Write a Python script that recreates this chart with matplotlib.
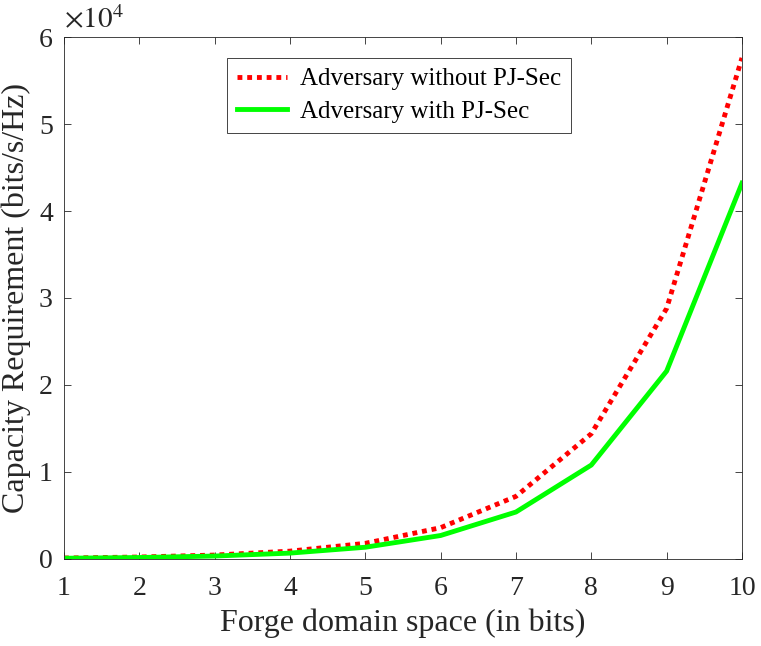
import numpy as np
import matplotlib
matplotlib.use('Agg')
from matplotlib import pyplot as plt

bits = [1, 2, 3, 4, 5, 6, 7, 8, 9, 10]
without_pj = [112, 225, 450, 900, 1800, 3600, 7200, 14400, 28800, 57600]
with_pj = [84, 169, 338, 675, 1350, 2700, 5400, 10800, 21600, 43200]

plt.rcParams['font.family'] = ['Liberation Serif', 'DejaVu Serif']
plt.rcParams['mathtext.fontset'] = 'stix'

fig = plt.figure(figsize=(7.61, 6.46), dpi=100)
ax = fig.add_axes([0.0841, 0.1347, 0.8909, 0.808])

ax.plot(bits, without_pj, color='#ff0000', linestyle=(0, (1, 1)), linewidth=3.5,
        label='Adversary without PJ-Sec')
ax.plot(bits, with_pj, color='#00ff00', linestyle='-', linewidth=3.5,
        label='Adversary with PJ-Sec')

ax.set_xlim(1, 10)
ax.set_ylim(0, 60000)
ax.set_xticks(range(1, 11))
ax.set_yticks(np.arange(0, 60001, 10000))
ax.set_yticklabels([str(i) for i in range(7)])
ax.text(0.0, 1.005, r'$\times10^4$', transform=ax.transAxes, fontsize=21,
        ha='left', va='bottom', color='#262626')

ax.tick_params(direction='in', top=True, right=True, labelsize=20, length=5,
               width=0.6, colors='#262626', pad=8)
ax.tick_params(axis='x', pad=12)
for sp in ax.spines.values():
    sp.set_color('#262626')
    sp.set_linewidth(0.6)

ax.set_xlabel('Forge domain space (in bits)', fontsize=23, color='#262626',
              labelpad=6)
ax.set_ylabel('Capacity Requirement (bits/s/Hz)', fontsize=23, color='#262626',
              labelpad=6)

leg = ax.legend(loc='upper center', bbox_to_anchor=(0.494, 0.96), fontsize=18,
                fancybox=False, framealpha=1, edgecolor='#262626',
                handlelength=2.0, handletextpad=0.5, borderpad=0.4,
                labelspacing=0.4, borderaxespad=0)
leg.get_frame().set_linewidth(0.6)

plt.savefig('out.png', dpi=100)
